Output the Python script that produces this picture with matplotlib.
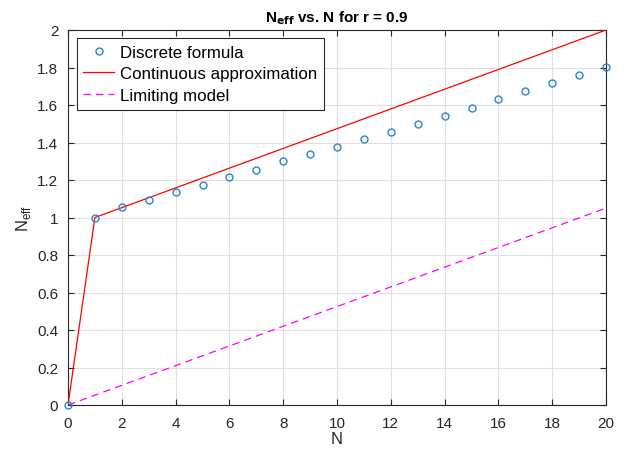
import matplotlib
matplotlib.use("Agg")
import matplotlib.pyplot as plt
import numpy as np

plt.rcParams['font.family'] = ['Liberation Sans', 'DejaVu Sans']

# Data
N_discrete = list(range(0, 21))
Neff_discrete = [0.0, 1.0, 1.054, 1.095, 1.135, 1.174, 1.214, 1.256, 1.299, 1.337,
                 1.376, 1.417, 1.458, 1.499, 1.544, 1.586, 1.632, 1.673, 1.719, 1.758, 1.804]
N_cont = [0, 1, 20]
Neff_cont = [0.0, 1.0, 2.0]
N_limit = [0, 20]
Neff_limit = [0.0, 1.05]

x_ticks = list(range(0, 21, 2))
y_ticks = [0, 0.2, 0.4, 0.6, 0.8, 1, 1.2, 1.4, 1.6, 1.8, 2]
y_tick_labels = ['0', '0.2', '0.4', '0.6', '0.8', '1', '1.2', '1.4', '1.6', '1.8', '2']

fig = plt.figure(figsize=(6.3, 4.52), dpi=100)
ax = fig.add_axes([68/630, 1-406/452, (606-68)/630, (406-31)/452])

axcol = '#262626'
ax.plot(N_discrete, Neff_discrete, 'o', markerfacecolor='none', markeredgecolor='#2a86cc',
        markersize=5, markeredgewidth=1.0, label='Discrete formula', zorder=4, clip_on=False)
ax.plot(N_cont, Neff_cont, '-', color='#FF0000', linewidth=0.9,
        label='Continuous approximation', zorder=3)
ax.plot(N_limit, Neff_limit, '--', color='#FF00FF', linewidth=0.9, dashes=(6, 4),
        label='Limiting model', zorder=3)

ax.set_xlim(0, 20)
ax.set_ylim(0, 2)
ax.set_xticks(x_ticks)
ax.set_yticks(y_ticks)
ax.set_yticklabels(y_tick_labels)
ax.grid(True, color='#e0e0e0', linewidth=0.8)
ax.set_axisbelow(True)
for s in ax.spines.values():
    s.set_color(axcol)
    s.set_linewidth(0.8)
ax.tick_params(direction='in', length=4, width=0.8, colors=axcol, labelsize=11,
               top=True, right=True)
ax.tick_params(axis='x', pad=8)
ax.tick_params(axis='y', pad=7)
for lab in ax.get_xticklabels() + ax.get_yticklabels():
    lab.set_color(axcol)

ax.set_xlabel('N', fontsize=12, color=axcol, labelpad=1)
ax.set_ylabel(r'N$_{\mathregular{eff}}$', fontsize=12, color=axcol, labelpad=3)
ax.set_title(r'N$_{\mathbf{eff}}$ vs. N for r = 0.9', fontsize=11, fontweight='bold',
             color='black', pad=6)

leg = ax.legend(loc='upper left', bbox_to_anchor=(0.016, 0.979), fontsize=12.2,
                frameon=True, fancybox=False, edgecolor=axcol, framealpha=1,
                borderpad=0.4, labelspacing=0.4, handlelength=1.8, handletextpad=0.35,
                borderaxespad=0)
leg.get_frame().set_linewidth(0.8)

fig.savefig('out.png', dpi=100)
